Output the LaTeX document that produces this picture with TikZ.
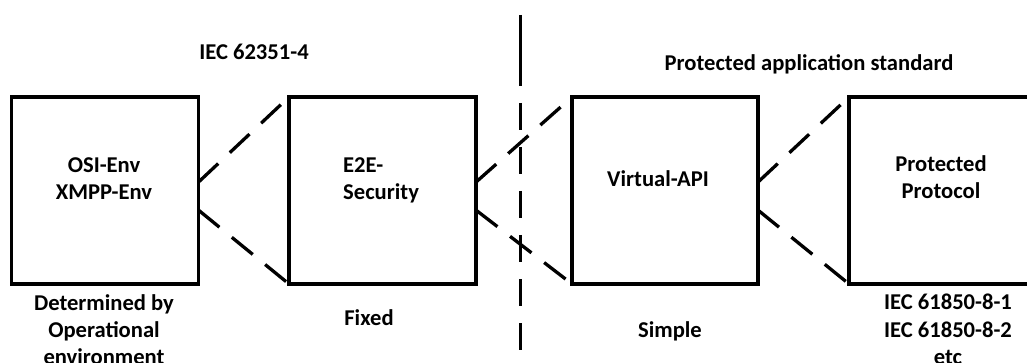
\documentclass[tikz,border=0pt]{standalone}
\usepackage{fontspec}
\setmainfont{Carlito}
\usetikzlibrary{calc}
\tikzset{
  box/.style={draw, line width=3.3pt, outer sep=0pt, minimum width=187pt, minimum height=187pt, inner sep=0pt},
  lbl/.style={font=\bfseries\fontsize{22.6}{27}\selectfont, inner sep=0pt, anchor=base},
  link/.style={line width=3.3pt, dash pattern=on 27pt off 16pt},
  divider/.style={line width=3.3pt, dash pattern={on 71pt off 17pt on 27pt off 17pt on 27pt off 17pt on 27pt off 17pt on 27pt off 17pt on 27pt off 17pt on 27pt off 17pt}}
}
\begin{document}
\begin{tikzpicture}[x=1pt, y=-1pt]
\useasboundingbox (0,0) rectangle (1027,363);
\clip (0,0) rectangle (1027,363);
\fill[white] (0,0) rectangle (1027,363);

% the four protocol layers
\node[box] (b1) at (105,190.5) {};
\node[box] (b2) at (382.5,190.5) {};
\node[box, minimum width=186pt] (b3) at (665,190.5) {};
\node[box] (b4) at (942.5,190.5) {};

% box texts
\node[lbl] (osi) at (104,173) {OSI-Env};
\node[lbl] (xmpp) at (104,200) {XMPP-Env};
\node[lbl, anchor=base west] (e2e) at (343,173) {E2E-};
\node[lbl, anchor=base west] (sec) at (343,200) {Security};
\node[lbl] (vapi) at (658,187) {Virtual-API};
\node[lbl] (prot1) at (941,172) {Protected};
\node[lbl] (prot2) at (941,199) {Protocol};

% headings
\node[lbl] (h1) at (254,60) {IEC 62351-4};
\node[lbl] (h2) at (809,71) {Protected application standard};

% captions under the boxes
\node[lbl] (c1a) at (104,310) {Determined by};
\node[lbl] (c1b) at (104,337) {Operational};
\node[lbl] (c1c) at (104,364) {environment};
\node[lbl] (c2) at (369,325) {Fixed};
\node[lbl] (c3) at (670,337) {Simple};
\node[lbl] (c4a) at (948,309) {IEC 61850-8-1};
\node[lbl] (c4b) at (948,337) {IEC 61850-8-2};
\node[lbl] (c4c) at (948,364) {etc};

% dashed fan-out links between layers
\foreach \a/\b in {b1/b2, b2/b3, b3/b4}{
  \draw[link] ($(\a.north east)!0.455!(\a.south east)$) -- (\b.north west);
  \draw[link] ($(\a.north east)!0.605!(\a.south east)$) -- (\b.south west);
}

% separator between the two standards
\coordinate (dtop) at (520.7,15);
\coordinate (dbot) at (520.7,350);
\draw[divider] (dtop) -- (dbot);
\end{tikzpicture}
\end{document}
